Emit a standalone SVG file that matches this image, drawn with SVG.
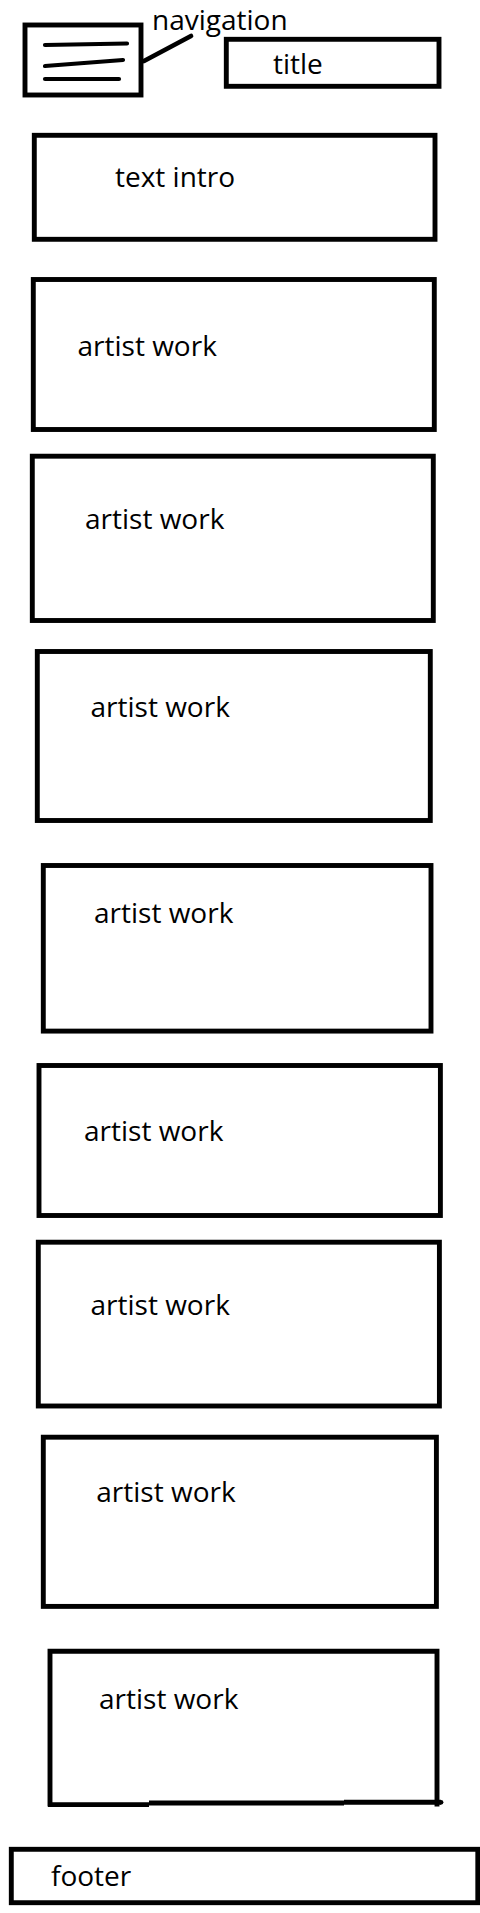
<svg xmlns="http://www.w3.org/2000/svg" width="480" height="1913" viewBox="0 0 480 1913">
<style>
.box{fill:none;stroke:#000;stroke-width:4.9}
.ln{fill:none;stroke:#000;stroke-width:4.2;stroke-linecap:round}
.t{font-family:"Open Sans","Noto Sans","Liberation Sans",sans-serif;font-size:28px;fill:#000}
</style>
<rect width="480" height="1913" fill="#fff"/>
<g id="connectors">
<line x1="144" y1="61" x2="191" y2="36" stroke="#000" stroke-width="4.7" stroke-linecap="round"/>
</g>
<g id="navigation">
<rect class="box" x="25" y="25" width="116" height="70"/>
<line class="ln" x1="45" y1="45" x2="127" y2="43.5"/>
<line class="ln" x1="45" y1="66" x2="123" y2="60"/>
<line class="ln" x1="45" y1="79" x2="119" y2="79"/>
<text class="t" x="152" y="30">navigation</text>
</g>
<g id="title">
<rect class="box" x="226.3" y="39.3" width="212.7" height="47"/>
<text class="t" x="273" y="74">title</text>
</g>
<g id="text-intro">
<rect class="box" x="34.3" y="135.3" width="400.7" height="104"/>
<text class="t" x="115" y="187">text intro</text>
</g>
<g id="artist-work-1">
<rect class="box" x="33.3" y="279.5" width="401" height="150"/>
<text class="t" x="77.5" y="355.7">artist work</text>
</g>
<g id="artist-work-2">
<rect class="box" x="32.3" y="456.2" width="401" height="164.3"/>
<text class="t" x="85" y="528.7">artist work</text>
</g>
<g id="artist-work-3">
<rect class="box" x="37.3" y="651.5" width="393" height="169"/>
<text class="t" x="90.5" y="716.7">artist work</text>
</g>
<g id="artist-work-4">
<rect class="box" x="43.3" y="865.5" width="387.7" height="165.6"/>
<text class="t" x="94" y="923.3">artist work</text>
</g>
<g id="artist-work-5">
<rect class="box" x="39" y="1065.5" width="401.4" height="150"/>
<text class="t" x="84" y="1140.7">artist work</text>
</g>
<g id="artist-work-6">
<rect class="box" x="38.3" y="1242.2" width="401.1" height="163.8"/>
<text class="t" x="90.5" y="1315">artist work</text>
</g>
<g id="artist-work-7">
<rect class="box" x="43.3" y="1437.2" width="393.1" height="169.2"/>
<text class="t" x="96.3" y="1501.7">artist work</text>
</g>
<g id="artist-work-8">
<path class="box" d="M50 1806.5 V1651.2 H437 V1806.5"/>
<path d="M48 1804.6 H149 M149 1803 H344 M344 1802.3 H441" stroke="#000" stroke-width="4.9" fill="none"/>
<circle cx="441" cy="1802.3" r="2.4"/>
<text class="t" x="99" y="1709">artist work</text>
</g>
<g id="footer">
<rect class="box" x="11.3" y="1849.3" width="466.5" height="53.4"/>
<text class="t" x="51" y="1886">footer</text>
</g>
</svg>
